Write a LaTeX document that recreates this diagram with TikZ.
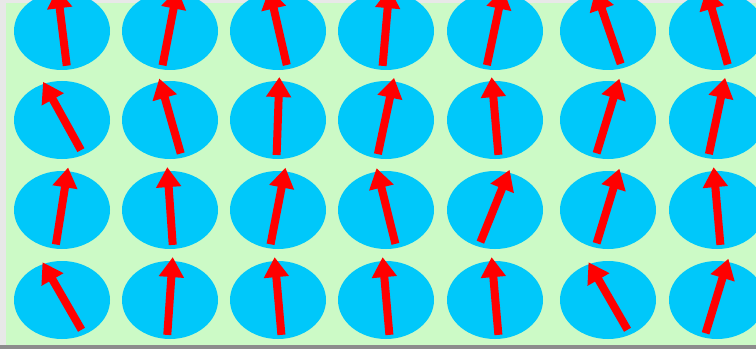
\documentclass[tikz,border=0pt]{standalone}
\usetikzlibrary{arrows.meta}
\definecolor{lattice}{RGB}{204,250,198}
\definecolor{sitecyan}{RGB}{0,200,250}
\definecolor{frame}{RGB}{232,232,232}
\definecolor{frameshadow}{RGB}{140,140,140}
\begin{document}
\begin{tikzpicture}[x=1pt, y=1pt,
    site/.style={fill=sitecyan},
    spin/.style={draw=red, line width=8pt, -{Triangle[width=24pt,length=20pt]}}]
    \useasboundingbox (0,0) rectangle (756,349);
    \clip (0,0) rectangle (756,349);

    % frame and background
    \fill[frame] (0,0) rectangle (756,349);
    \fill[lattice] (6,4) rectangle (756,346);
    \fill[frameshadow] (0,0) rectangle (756,4);

    % rows of sites, one spin angle per column
    \foreach \cy/\angles in {318/{97,79,103,85,78,109,106},
                             229/{119,106,88,78,95,73,78},
                             139/{81,94,79,104,68,73,95},
                             49/{120,86,95,95,95,120,73}}{
        \foreach \a [count=\c] in \angles {
            \pgfmathsetmacro\cx{{62,170,278,386,495,608,717}[\c-1]}
            \fill[site] (\cx,\cy) ellipse [x radius=48pt, y radius=39pt];
            \coordinate (m) at (\cx,\cy+4);
            \draw[spin] ([shift={(\a+180:39pt)}]m) -- ([shift={(\a:39pt)}]m);
        }
    }
\end{tikzpicture}
\end{document}
